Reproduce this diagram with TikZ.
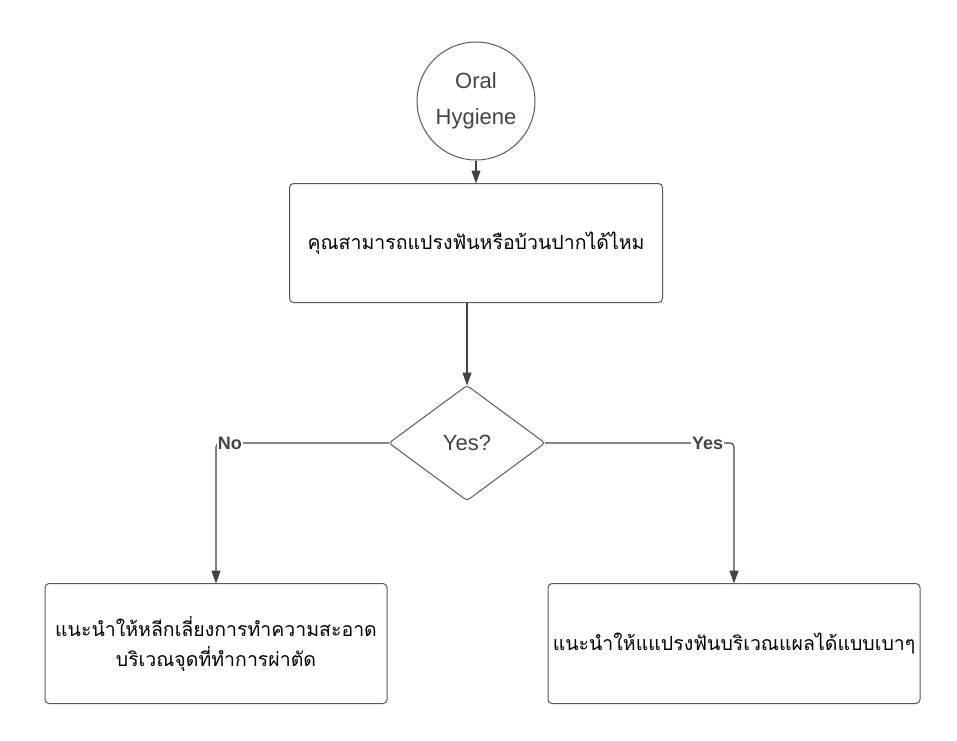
\documentclass[tikz,border=0pt]{standalone}
\usepackage{fontspec}
\setmainfont{Liberation Sans}
\newfontfamily\thaifont[Script=Thai]{Loma}
\usetikzlibrary{positioning,shapes.geometric,arrows.meta}

\definecolor{flowline}{RGB}{62,68,77}
\definecolor{flowedge}{RGB}{90,90,90}

\tikzset{
  flowbox/.style={draw=flowedge, line width=1pt, rounded corners=4pt,
    align=center, inner sep=0pt, outer sep=0pt},
  flowtext/.style={font=\thaifont\fontsize{19.5}{30}\selectfont},
  flowarrow/.style={draw=flowline, line width=1.2pt, rounded corners=4pt,
    -{Triangle[length=13pt,width=9pt]}},
  flowlabel/.style={fill=white, inner sep=1pt, text=flowline,
    font=\bfseries\fontsize{18}{20}\selectfont}
}

\begin{document}
\begin{tikzpicture}[x=1pt,y=-1pt]
    \useasboundingbox (0,0) rectangle (957,740);
    % start
    \node[draw=flowedge, line width=1pt, circle, minimum size=118pt, inner sep=0pt,
      align=center, text=flowline, font=\fontsize{22}{36}\selectfont] (start) at (476,101) {Oral\\Hygiene};
    % question
    \node[flowbox, flowtext, minimum width=373pt, minimum height=119pt,
      below = 23pt of start] (ask) {คุณสามารถแปรงฟันหรือบ้วนปากได้ไหม};
    \draw[flowarrow] (start) -- (ask);
    % decision
    \node[draw=flowedge, line width=1pt, diamond, rounded corners=3pt, inner sep=0pt,
      outer sep=0pt, minimum width=156pt, minimum height=115pt, text=flowline,
      font=\fontsize{22}{26}\selectfont, below = 83pt of ask, xshift=-9pt] (check) {Yes?};
    \draw[flowarrow] (ask.south -| check.north) -- (check.north);
    % no
    \node[flowbox, flowtext, minimum width=342pt, minimum height=120pt,
      below = 83pt of check, xshift=-251pt] (avoid) {แนะนำให้หลีกเลี่ยงการทำความสะอาด\\บริเวณจุดที่ทำการผ่าตัด};
    \draw[flowarrow] (check.west) -| node[flowlabel, pos=0.46] {No} (avoid.north);
    % yes
    \node[flowbox, flowtext, minimum width=372pt, minimum height=120pt,
      below = 83pt of check, xshift=267pt] (brush) {แนะนำให้แแปรงฟันบริเวณแผลได้แบบเบาๆ};
    \draw[flowarrow] (check.east) -| node[flowlabel, pos=0.43] {Yes} (brush.north);
\end{tikzpicture}
\end{document}
